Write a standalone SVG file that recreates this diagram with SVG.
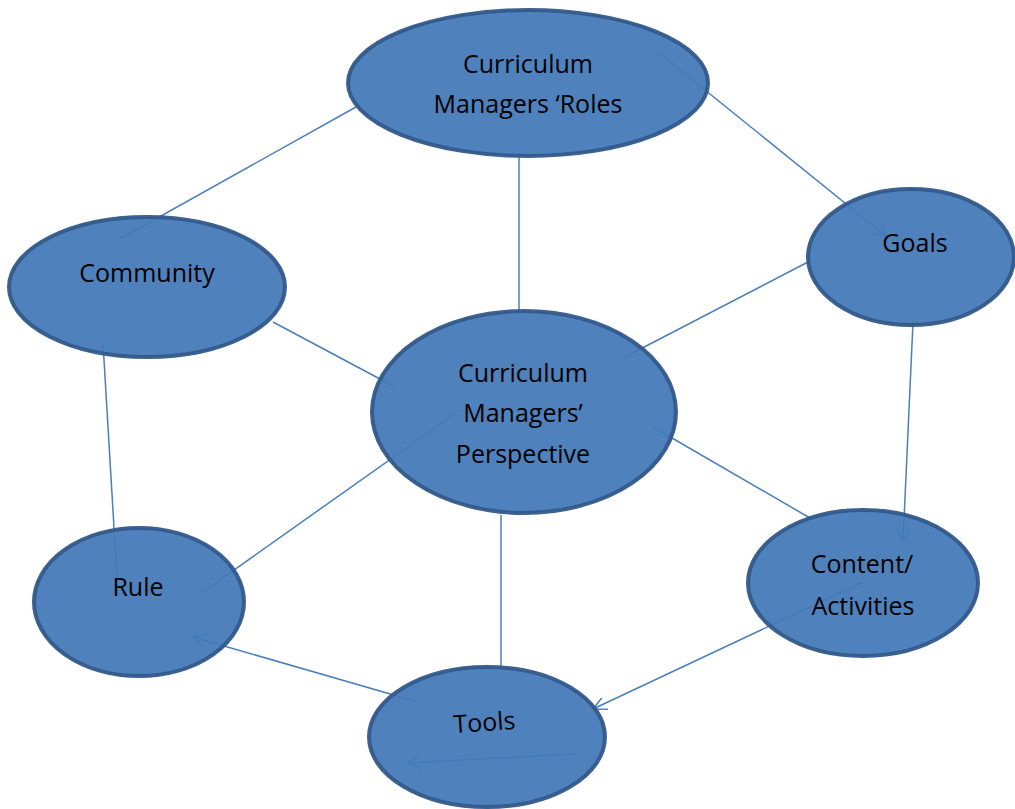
<svg xmlns="http://www.w3.org/2000/svg" width="1015" height="809" viewBox="0 0 1015 809">
<defs>
<style>
.node{fill:#4479B9;fill-opacity:0.94;stroke:#31588A;stroke-opacity:0.95;stroke-width:4}
.lbl{font-family:"Open Sans","Liberation Sans",sans-serif;font-size:25px;fill:#000;text-anchor:middle}
.con{stroke:#4A7EBB;stroke-width:1.5;fill:none}
.arr{marker-end:url(#ah)}
</style>
<marker id="ah" viewBox="0 0 10 10" refX="10" refY="5" markerWidth="9" markerHeight="9" orient="auto" markerUnits="strokeWidth">
<path d="M0,0 L10,5 L0,10" fill="none" stroke="#4A7EBB" stroke-width="1.1"/>
</marker>
</defs>
<rect width="1015" height="809" fill="#fff"/>
<g id="connectors">
<line class="con" x1="356" y1="107" x2="118" y2="240"/>
<line class="con arr" x1="658" y1="52" x2="887" y2="237"/>
<line class="con" x1="519" y1="157" x2="519" y2="310"/>
<line class="con" x1="808" y1="262" x2="625" y2="357"/>
<line class="con" x1="273" y1="322" x2="395" y2="387"/>
<line class="con" x1="653" y1="427" x2="810" y2="518"/>
<line class="con arr" x1="913" y1="322" x2="903" y2="542"/>
<line class="con" x1="103" y1="343" x2="117" y2="578"/>
<line class="con" x1="460" y1="410" x2="203" y2="592"/>
<line class="con" x1="501" y1="515" x2="501" y2="668"/>
<line class="con arr" x1="418" y1="702" x2="193" y2="637"/>
<line class="con arr" x1="863" y1="582" x2="593" y2="709"/>
<line class="con arr" x1="575" y1="754" x2="407" y2="763"/>
</g>
<g id="roles">
<ellipse class="node" cx="528" cy="83" rx="180" ry="73"/>
<text class="lbl" x="528" y="73">Curriculum</text>
<text class="lbl" x="528" y="113">Managers ‘Roles</text>
</g>
<g id="goals">
<ellipse class="node" cx="911" cy="257" rx="103" ry="68"/>
<text class="lbl" x="915" y="252">Goals</text>
</g>
<g id="community">
<ellipse class="node" cx="147" cy="287" rx="138" ry="70"/>
<text class="lbl" x="147" y="282">Community</text>
</g>
<g id="perspective">
<ellipse class="node" cx="524" cy="412" rx="152" ry="101"/>
<text class="lbl" x="523" y="382">Curriculum</text>
<text class="lbl" x="523" y="422">Managers’</text>
<text class="lbl" x="523" y="463">Perspective</text>
</g>
<g id="content">
<ellipse class="node" cx="863" cy="583" rx="115" ry="73"/>
<text class="lbl" x="862" y="573">Content/</text>
<text class="lbl" x="863" y="615">Activities</text>
</g>
<g id="rule">
<ellipse class="node" cx="139" cy="602" rx="105" ry="74"/>
<text class="lbl" x="138" y="596">Rule</text>
</g>
<g id="tools">
<ellipse class="node" cx="487" cy="737" rx="118" ry="70"/>
<text class="lbl" x="485" y="731" transform="rotate(-4 485 731)">Tools</text>
</g>
</svg>
